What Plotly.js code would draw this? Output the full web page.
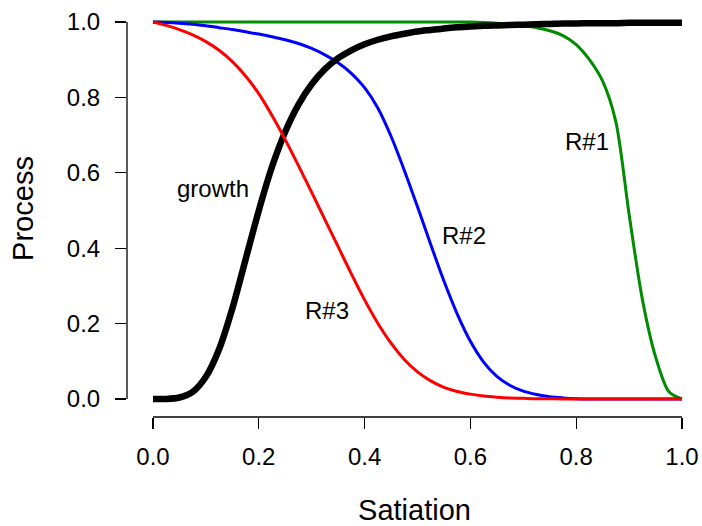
<!DOCTYPE html>
<html>
<head>
<meta charset="utf-8">
<script src="https://cdn.plot.ly/plotly-3.0.1.min.js"></script>
<style>html,body{margin:0;padding:0;background:#fff;}#chart{width:702px;height:526px;}</style>
</head>
<body>
<div id="chart"></div>
<script>
// Satiation grid
var satiation = [0, 0.025, 0.05, 0.075, 0.1, 0.125, 0.15, 0.175, 0.2, 0.225,
  0.25, 0.275, 0.3, 0.325, 0.35, 0.375, 0.4, 0.425, 0.45, 0.475,
  0.5, 0.525, 0.55, 0.575, 0.6, 0.625, 0.65, 0.675, 0.7, 0.725,
  0.75, 0.775, 0.8, 0.825, 0.85, 0.875, 0.9, 0.925, 0.95, 0.975, 1.0];

var growth = [0, 0, 0.004, 0.019, 0.059, 0.132, 0.240, 0.370, 0.500, 0.616,
  0.709, 0.781, 0.835, 0.875, 0.904, 0.925, 0.941, 0.953, 0.962, 0.969,
  0.975, 0.979, 0.983, 0.986, 0.988, 0.990, 0.991, 0.992, 0.993, 0.994,
  0.995, 0.996, 0.996, 0.997, 0.997, 0.997, 0.998, 0.998, 0.998, 0.998, 0.998];

var r1 = [1, 1, 1, 1, 1, 1, 1, 1, 1, 1,
  1, 1, 1, 1, 1, 1, 1, 1, 1, 1,
  1, 1, 1, 1, 1, 0.999, 0.997, 0.994, 0.990, 0.985,
  0.977, 0.964, 0.940, 0.900, 0.843, 0.735, 0.490, 0.265, 0.112, 0.020, 0];

var r2 = [1, 0.999, 0.997, 0.994, 0.990, 0.985, 0.980, 0.974, 0.968, 0.961,
  0.953, 0.943, 0.930, 0.913, 0.892, 0.864, 0.826, 0.772, 0.697, 0.607,
  0.510, 0.410, 0.313, 0.226, 0.153, 0.098, 0.060, 0.036, 0.021, 0.012,
  0.006, 0.003, 0.001, 0, 0, 0, 0, 0, 0, 0, 0];

var r3 = [1, 0.991, 0.980, 0.966, 0.948, 0.925, 0.895, 0.857, 0.810, 0.752,
  0.688, 0.619, 0.548, 0.476, 0.404, 0.332, 0.263, 0.201, 0.148, 0.105,
  0.072, 0.048, 0.031, 0.020, 0.013, 0.008, 0.005, 0.003, 0.002, 0.001,
  0.001, 0, 0, 0, 0, 0, 0, 0, 0, 0, 0];

var tickVals = [0, 0.2, 0.4, 0.6, 0.8, 1.0];
var tickText = ['0.0', '0.2', '0.4', '0.6', '0.8', '1.0'];

var curveLabels = ['growth', 'R#3', 'R#2', 'R#1'];
var labelX = [0.114, 0.329, 0.588, 0.820];
var labelY = [0.558, 0.235, 0.435, 0.683];

var FONT = 'Liberation Sans, Arial, Helvetica, sans-serif';

var traces = [
  {x: satiation, y: r1, name: 'R#1', mode: 'lines', line: {color: '#008B00', width: 3, shape: 'spline', smoothing: 0.8}},
  {x: satiation, y: r2, name: 'R#2', mode: 'lines', line: {color: '#0000FF', width: 3, shape: 'spline', smoothing: 0.8}},
  {x: satiation, y: growth, name: 'growth', mode: 'lines', line: {color: '#000000', width: 6.5, shape: 'spline', smoothing: 0.8}},
  {x: satiation, y: r3, name: 'R#3', mode: 'lines', line: {color: '#FF0000', width: 3, shape: 'spline', smoothing: 0.8}}
];

var annotations = curveLabels.map(function (t, i) {
  return {x: labelX[i], y: labelY[i], xref: 'x', yref: 'y', text: t, showarrow: false,
    xanchor: 'center', yanchor: 'middle', font: {family: FONT, size: 24, color: '#000'}};
});

var layout = {
  width: 702, height: 526,
  margin: {l: 127, r: 0, t: 0, b: 109, pad: 0},
  paper_bgcolor: '#fff', plot_bgcolor: '#fff',
  showlegend: false,
  font: {family: FONT, size: 24, color: '#000'},
  xaxis: {
    range: [-0.0491, 1.0378], tickvals: tickVals, ticktext: tickText,
    ticks: 'outside', ticklen: 11, tickwidth: 1.3, tickcolor: '#000',
    ticklabelstandoff: 7,
    showgrid: false, zeroline: false, showline: false,
    tickfont: {family: FONT, size: 24, color: '#000'},
    title: {text: 'Satiation', font: {family: FONT, size: 29, color: '#000'}, standoff: 32},
    automargin: false
  },
  yaxis: {
    range: [-0.0477, 1.0584], tickvals: tickVals, ticktext: tickText,
    ticks: 'outside', ticklen: 11, tickwidth: 1.3, tickcolor: '#000',
    ticklabelstandoff: 10,
    showgrid: false, zeroline: false, showline: false,
    tickfont: {family: FONT, size: 24, color: '#000'},
    title: {text: 'Process', font: {family: FONT, size: 29, color: '#000'}, standoff: 24},
    automargin: false
  },
  shapes: [
    {type: 'line', xref: 'x', yref: 'paper', x0: 0, x1: 1, y0: 0, y1: 0, line: {color: '#000', width: 1.3}},
    {type: 'line', xref: 'paper', yref: 'y', x0: 0, x1: 0, y0: 0, y1: 1, line: {color: '#000', width: 1.3}}
  ],
  annotations: annotations
};

Plotly.newPlot('chart', traces, layout, {displayModeBar: false, staticPlot: true});
</script>
</body>
</html>
